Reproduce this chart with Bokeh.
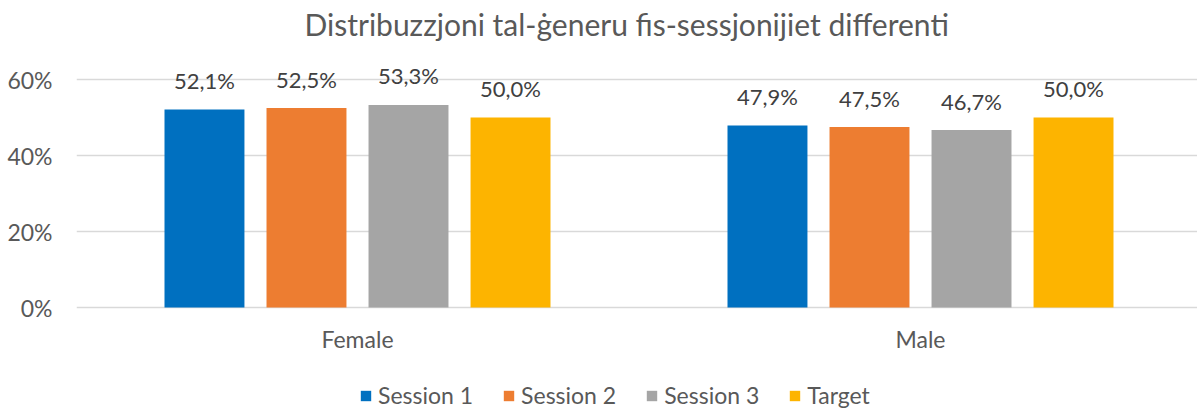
from bokeh.plotting import figure
from bokeh.models import (ColumnDataSource, Range1d, FixedTicker, PrintfTickFormatter,
                          Legend, LegendItem)
from bokeh.core.properties import value
from bokeh.embed import file_html
from bokeh.resources import INLINE

categories = ["Female", "Male"]
series_names = ["Session 1", "Session 2", "Session 3", "Target"]
session1 = [52.1, 47.9]
session2 = [52.5, 47.5]
session3 = [53.3, 46.7]
target = [50.0, 50.0]
y_ticks = [0, 20, 40, 60]
colors = ["#0070C0", "#ED7D31", "#A5A5A5", "#FDB400"]

FONT = "Lato"
series_values = [session1, session2, session3, target]

p = figure(width=1197, height=409, output_backend="svg", toolbar_location=None,
           x_range=Range1d(-0.4991, 1.4920), y_range=Range1d(-26.84, 68.95),
           min_border_left=76, min_border_right=0, min_border_top=45,
           min_border_bottom=0)
p.outline_line_color = None
p.background_fill_color = "white"
p.border_fill_color = "white"

p.title.text = "Distribuzzjoni tal-ġeneru fis-sessjonijiet differenti"
p.title.align = "left"
p.title.offset = 228
p.title.standoff = 7
p.title.text_font = FONT
p.title.text_font_size = "30px"
p.title.text_font_style = "normal"
p.title.text_color = "#595959"

offsets = [-0.2718, -0.0906, 0.0906, 0.2718]
bar_w = 0.142
items = []
for name, vals, col, off in zip(series_names, series_values, colors, offsets):
    xs = [i + off for i in range(len(categories))]
    labels = [f"{v:.1f}".replace(".", ",") + "%" for v in vals]
    src = ColumnDataSource(dict(x=xs, top=vals, lab=labels))
    r = p.vbar(x="x", top="top", bottom=0, width=bar_w, source=src,
               fill_color=col, line_color=None)
    p.text(x="x", y="top", text="lab", source=src, text_align="center",
           text_baseline="middle", y_offset=-29, text_font=value(FONT),
           text_font_size="22px", text_color="#404040")
    items.append(LegendItem(label=name, renderers=[r]))

p.xaxis.ticker = FixedTicker(ticks=list(range(len(categories))))
p.xaxis.major_label_overrides = {i: c for i, c in enumerate(categories)}
p.xaxis.axis_line_color = None
p.xaxis.major_tick_line_color = None
p.xaxis.minor_tick_line_color = None
p.xaxis.major_tick_out = 0
p.xaxis.major_tick_in = 0
p.xaxis.major_label_text_font = FONT
p.xaxis.major_label_text_font_size = "23px"
p.xaxis.major_label_text_color = "#595959"
p.xaxis.major_label_standoff = -85

p.yaxis.ticker = FixedTicker(ticks=y_ticks)
p.yaxis.formatter = PrintfTickFormatter(format="%d%%")
p.yaxis.axis_line_color = None
p.yaxis.major_tick_line_color = None
p.yaxis.minor_tick_line_color = None
p.yaxis.major_tick_out = 0
p.yaxis.major_tick_in = 0
p.yaxis.major_label_text_font = FONT
p.yaxis.major_label_text_font_size = "23px"
p.yaxis.major_label_text_color = "#595959"
p.yaxis.major_label_standoff = 24

p.xgrid.grid_line_color = None
p.ygrid.grid_line_color = "#D9D9D9"
p.ygrid.grid_line_width = 1.5

legend = Legend(items=items, orientation="horizontal", location=(283, 0),
                margin=0, padding=0, spacing=29, label_standoff=6,
                glyph_width=13, glyph_height=13,
                label_text_font=FONT, label_text_font_size="23px",
                label_text_color="#595959", border_line_color=None,
                background_fill_alpha=0)
p.add_layout(legend, "center")

open("out.html", "w").write(file_html(p, INLINE))
